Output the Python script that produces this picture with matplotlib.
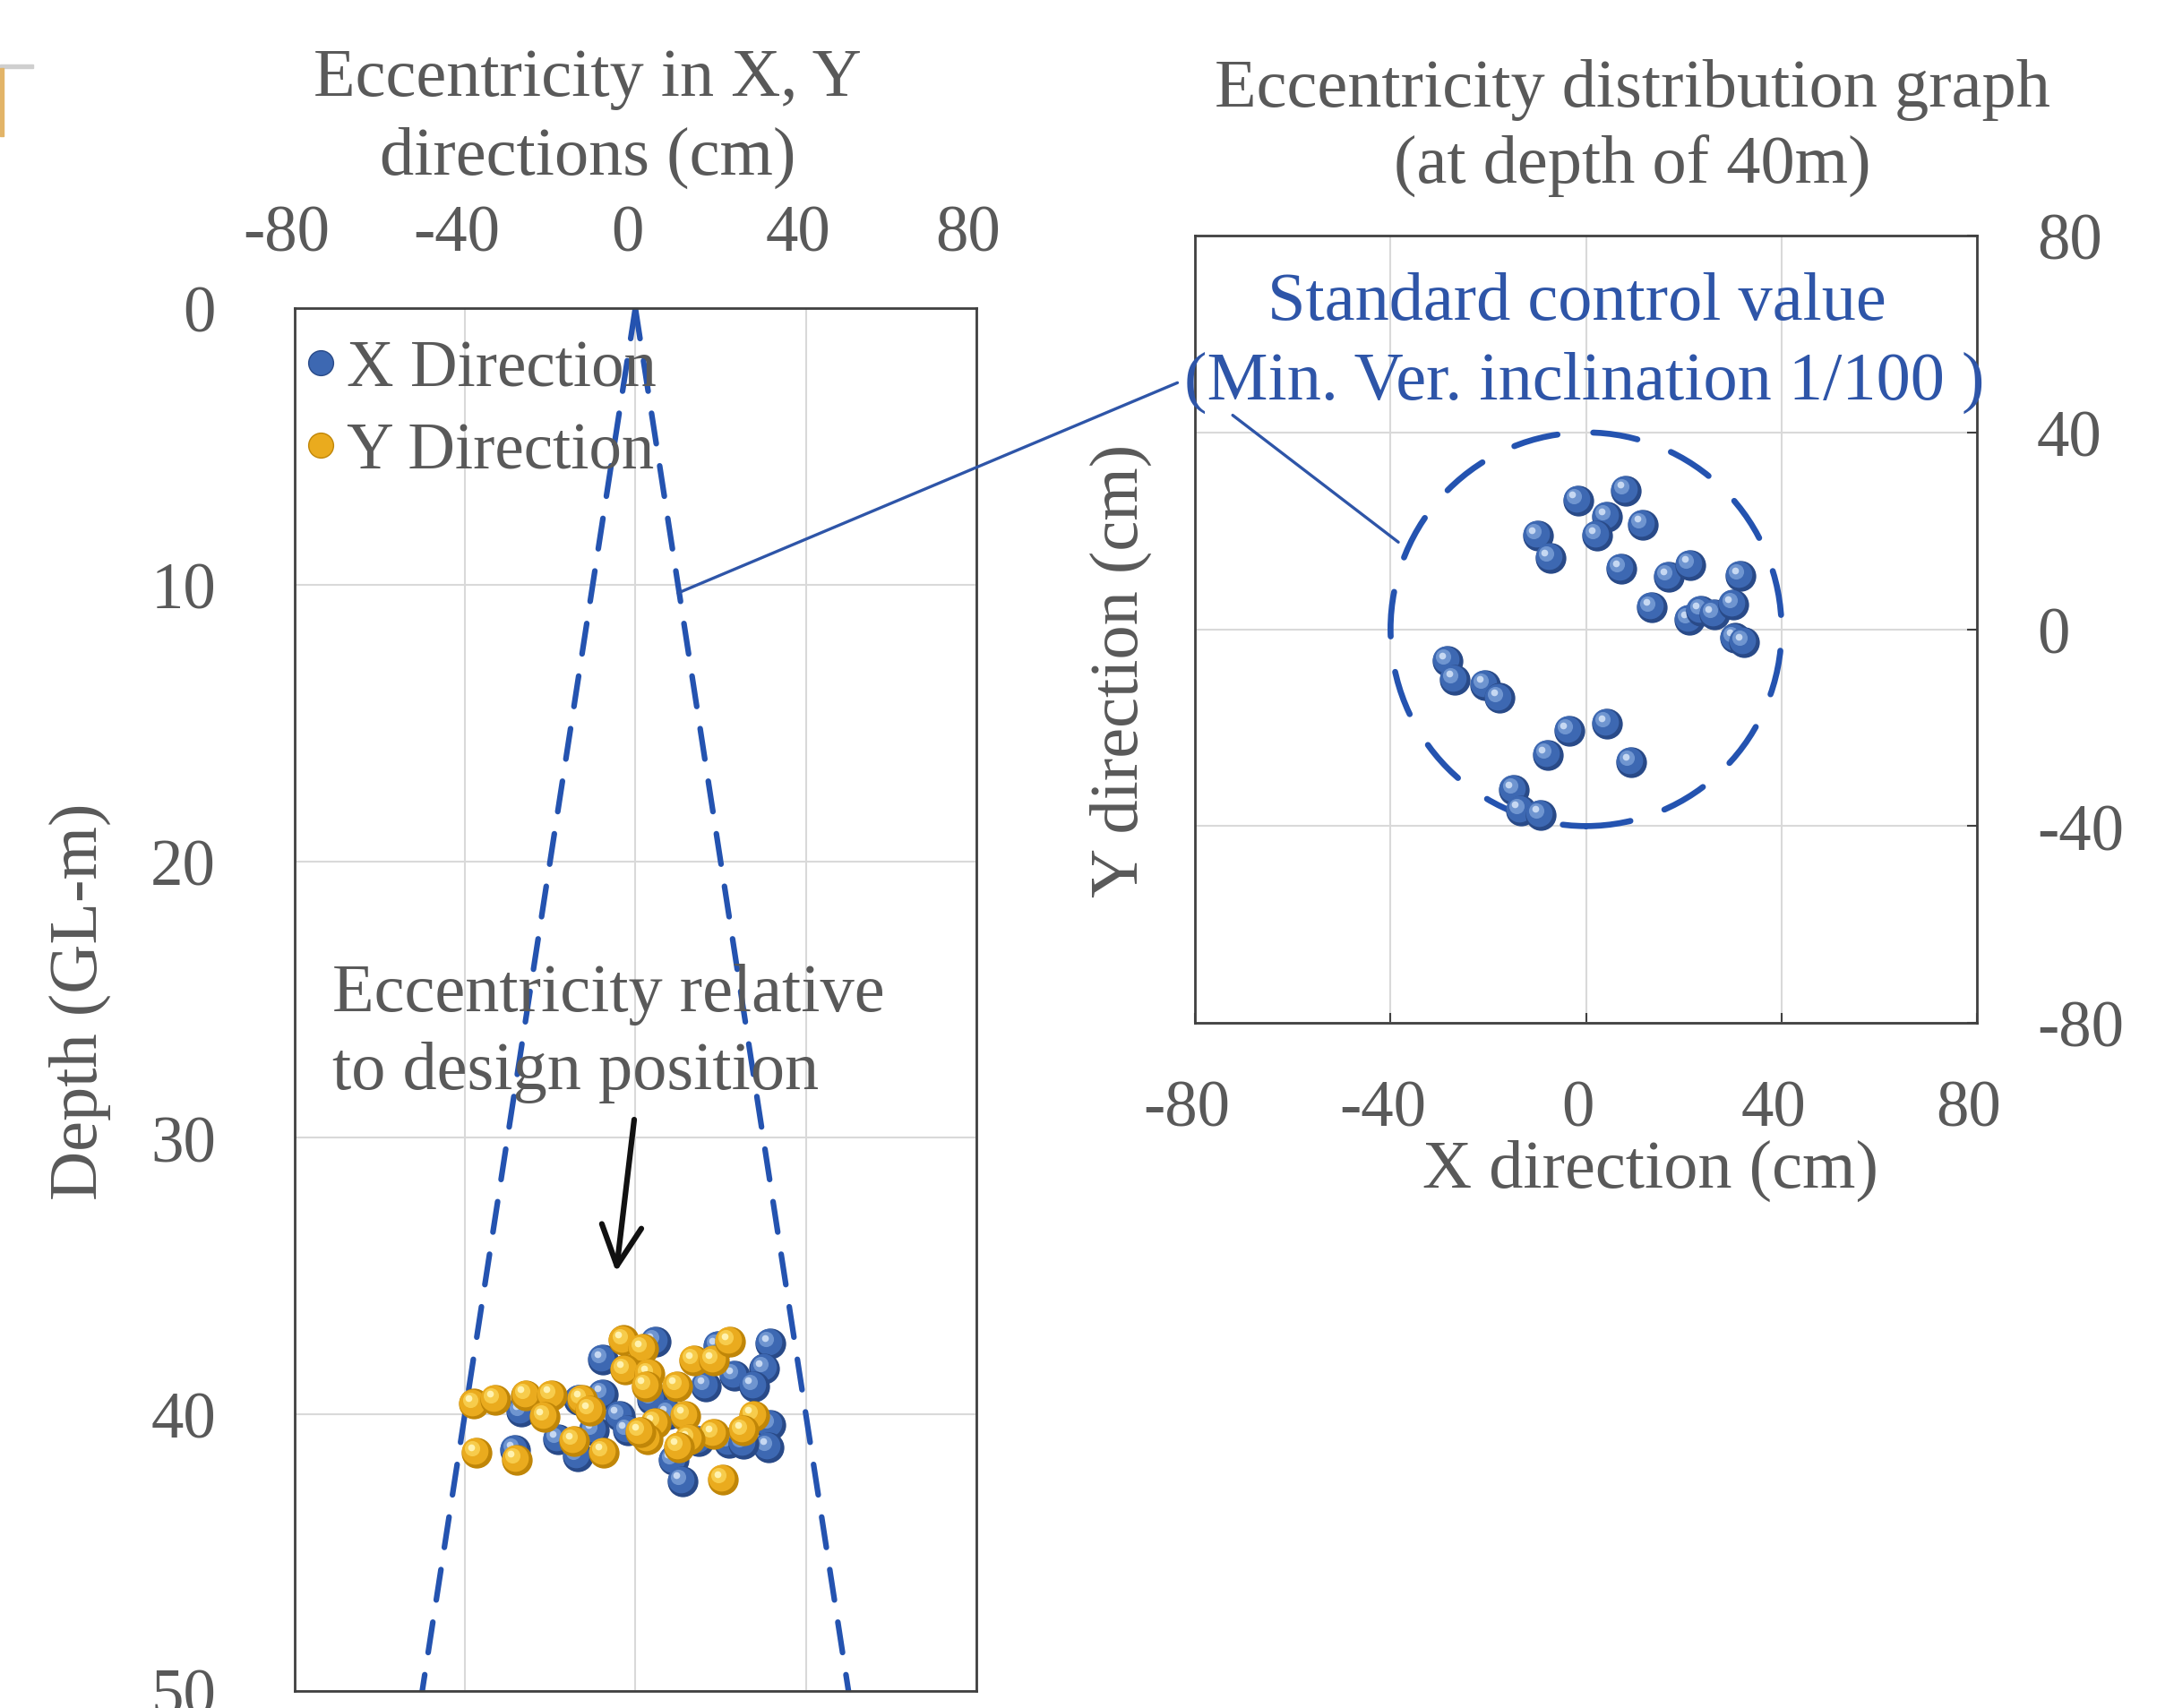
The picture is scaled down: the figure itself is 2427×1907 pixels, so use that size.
import matplotlib
matplotlib.use('Agg')
import matplotlib.pyplot as plt
import numpy as np
from matplotlib.transforms import offset_copy, ScaledTranslation
from matplotlib.patches import ConnectionPatch, Circle, Rectangle
from matplotlib.lines import Line2D

plt.rcParams['font.family'] = ['Liberation Serif', 'DejaVu Serif']
plt.rcParams['axes.unicode_minus'] = False

# --- data ---
# left panel: eccentricity (cm) vs depth (m)
x_dir_ecc = [-7.6, -7.6, -13.2, -26.8, -3.7, -1.8, -18.1, -9.7, -13.5, -28.2,
             4.7, 31.7, 30.3, 23.3, 27.8, 16.6, 4.0, 19.4, 7.8, 31.7,
             31.3, 21.9, 14.9, 8.9, 11.0, 25.4]
x_dir_depth = [38.02, 39.27, 39.46, 39.91, 40.05, 40.59, 40.91, 40.59, 41.50, 41.29,
               37.37, 37.43, 38.34, 38.61, 38.98, 38.98, 39.46, 37.53, 40.0, 40.38,
               41.18, 41.02, 40.96, 41.66, 42.41, 41.07]
y_dir_ecc = [-37.8, -32.8, -25.6, -19.6, -21.2, -12.5, -10.5, -37.3, -27.9, -14.4,
             -7.4, -2.7, 1.9, -2.3, 3.3, 2.6, 9.9, 13.8, 18.4, 22.2,
             11.7, 4.7, 27.8, 25.4, 18.4, 12.8, 2.9, 1.2, 10.3, 20.5]
y_dir_depth = [39.62, 39.46, 39.30, 39.30, 40.09, 39.46, 39.87, 41.39, 41.63, 40.96,
               41.37, 37.32, 37.64, 38.39, 38.55, 38.98, 38.98, 38.05, 38.05, 37.37,
               40.05, 40.32, 40.05, 40.59, 40.70, 40.91, 40.91, 40.64, 41.18, 42.36]

# right panel: distribution at 40 m depth (cm)
dist_x = [-1.65, 8.2, 4.35, 2.3, 11.6, -9.9, -7.35, 7.2, 16.9, 21.3,
          31.6, 13.5, 21.2, 23.6, 26.2, 30.2, 30.5, 32.3, -28.3, -26.9,
          -20.6, -17.7, 4.35, -3.5, -7.9, 9.2, -14.7, -13.4, -9.3]
dist_y = [26.2, 28.2, 22.9, 19.0, 21.3, 19.0, 14.5, 12.3, 10.7, 13.1,
          10.8, 4.4, 1.9, 3.7, 3.0, 5.0, -1.8, -2.6, -6.5, -10.2,
          -11.3, -14.0, -19.2, -20.7, -25.6, -27.0, -32.7, -36.8, -37.7]

ecc_ticks = [-80, -40, 0, 40, 80]
depth_ticks = [0, 10, 20, 30, 40, 50]
inclination = 1 / 100          # standard control value
ref_depth = 40                 # m, depth of the distribution graph
cone_depth = np.array([0, 50])

GREY = '#595959'
BLUE_TXT = '#2e55a8'
DASH_BLUE = '#2453b0'
BLUE = ('#294a88', '#3d68b2', '#6f95d0', '#c6d8f2')
GOLD = ('#c08608', '#eaab1e', '#f7cc4c', '#fff2b0')
FS = 52.5
TFS = 55


def balls(ax, xs, ys, cols, s=610, z0=3.0):
    fig = ax.figure
    t1 = offset_copy(ax.transData, fig=fig, x=-1.4, y=1.4, units='points')
    t2 = offset_copy(ax.transData, fig=fig, x=-3.5, y=3.5, units='points')
    t3 = offset_copy(ax.transData, fig=fig, x=-4.5, y=4.5, units='points')
    for i, (x, y) in enumerate(zip(xs, ys)):
        z = z0 + i * 0.01
        ax.scatter(x, y, s=s, color=cols[0], lw=0, zorder=z)
        ax.scatter(x, y, s=s * 0.75, color=cols[1], lw=0, zorder=z + 0.001, transform=t1)
        ax.scatter(x, y, s=s * 0.25, color=cols[2], lw=0, zorder=z + 0.002, transform=t2)
        ax.scatter(x, y, s=s * 0.05, color=cols[3], lw=0, zorder=z + 0.003, transform=t3)


fig = plt.figure(figsize=(24.27, 19.08), dpi=100)

# ---------------- left panel ----------------
ax1 = fig.add_axes([0.1354, 0.00996, 0.3137, 0.8092])
ax1.set_xlim(-80, 80)
ax1.set_ylim(50, 0)
ax1.xaxis.tick_top()
ax1.set_xticks(ecc_ticks)
ax1.set_yticks(depth_ticks)
ax1.tick_params(axis='x', length=0, pad=35, labelsize=FS, labelcolor=GREY)
ax1.tick_params(axis='y', length=0, pad=63, labelsize=FS, labelcolor=GREY)
ax1.grid(True, color='#d9d9d9', lw=1.5)
ax1.set_axisbelow(True)
for sp in ax1.spines.values():
    sp.set_color('#404040')
    sp.set_linewidth(2)

# 1/100 cone
for sgn in (-1, 1):
    ax1.plot(sgn * cone_depth * inclination * 100, cone_depth, color=DASH_BLUE,
             lw=4.5, dashes=(5.5, 4), dash_capstyle='round', zorder=2)

balls(ax1, x_dir_ecc, x_dir_depth, BLUE, z0=3)
balls(ax1, y_dir_ecc, y_dir_depth, GOLD, z0=5)

handles = [Line2D([], [], ls='', marker='o', ms=20, mfc=BLUE[1], mec=BLUE[0]),
           Line2D([], [], ls='', marker='o', ms=20, mfc=GOLD[1], mec=GOLD[0])]
ax1.legend(handles, ['X Direction', 'Y Direction'], loc='upper left',
           bbox_to_anchor=(-0.014, 0.989), frameon=False, fontsize=FS, labelcolor=GREY,
           handlelength=0.6, handletextpad=0.1, borderpad=0.25, borderaxespad=0,
           labelspacing=0.33)

ax1.text(-71, 25.4, 'Eccentricity relative', ha='left', va='baseline',
         fontsize=TFS, color=GREY, zorder=6)
ax1.text(-71, 28.2, 'to design position', ha='left', va='baseline',
         fontsize=TFS, color=GREY, zorder=6)
ax1.annotate('', xy=(-4.5, 34.85), xytext=(-0.27, 29.34),
             arrowprops=dict(arrowstyle='->,head_length=1.6,head_width=0.8', lw=4.5,
                             color='#111111', mutation_scale=20, shrinkA=0, shrinkB=0))

fig.text(0.2702, 1 - 107 / 1908, 'Eccentricity in X, Y', ha='center', va='baseline',
         fontsize=TFS, color=GREY)
fig.text(0.2702, 1 - 194.6 / 1908, 'directions (cm)', ha='center', va='baseline',
         fontsize=TFS, color=GREY)
fig.text(0.0367, 0.414, 'Depth (GL-m)', rotation=90, ha='center', va='center',
         fontsize=TFS, color=GREY)

# ---------------- right panel ----------------
ax2 = fig.add_axes([0.5497, 0.4009, 0.3597, 0.4607])
ax2.set_xlim(-80, 80)
ax2.set_ylim(-80, 80)
ax2.yaxis.tick_right()
ax2.set_xticks(ecc_ticks)
ax2.set_yticks(ecc_ticks)
ax2.tick_params(axis='both', direction='in', length=8, width=1.5, color='#404040',
                labelsize=FS, labelcolor=GREY)
ax2.tick_params(axis='x', pad=45)
ax2.tick_params(axis='y', pad=48)
ax2.grid(True, color='#d9d9d9', lw=1.5)
ax2.set_axisbelow(True)
for sp in ax2.spines.values():
    sp.set_color('#404040')
    sp.set_linewidth(2)

limit_r = ref_depth * 100 * inclination
ax2.add_patch(Circle((0, 0), limit_r, fill=False, ec=DASH_BLUE, lw=4.8,
                     ls=(0, (7.5, 6)), capstyle='round', zorder=2))
balls(ax2, dist_x, dist_y, BLUE, z0=3)

ax2.text(-1.8, 63.1, 'Standard control value', ha='center', va='baseline',
         fontsize=TFS, color=BLUE_TXT)
ax2.text(-0.3, 47.0, '(Min. Ver. inclination 1/100 )', ha='center', va='baseline',
         fontsize=TFS, color=BLUE_TXT)
ax2.annotate('', xy=(-38.4, 17.7), xytext=(-72.3, 43.5),
             arrowprops=dict(arrowstyle='-', lw=2.4, color=BLUE_TXT, shrinkA=0, shrinkB=0))
con = ConnectionPatch(xyA=(10, 10.3), coordsA=ax1.transData,
                      xyB=(-83.6, 50.1), coordsB=ax2.transData,
                      color=BLUE_TXT, lw=2.4, zorder=10)
fig.add_artist(con)

fig.text(0.7507, 1 - 118.6 / 1908, 'Eccentricity distribution graph', ha='center',
         va='baseline', fontsize=TFS, color=GREY)
fig.text(0.7507, 1 - 205 / 1908, '(at depth of 40m)', ha='center', va='baseline',
         fontsize=TFS, color=GREY)
fig.text(0.5155, 0.6074, 'Y direction (cm)', rotation=90, ha='center', va='center',
         fontsize=TFS, color=GREY)
fig.text(0.759, 0.3146, 'X direction (cm)', ha='center', va='center',
         fontsize=TFS, color=GREY)

# tick labels sit slightly left of their gridlines in the original
shift = ScaledTranslation(-0.09, 0, fig.dpi_scale_trans)
for ax in (ax1, ax2):
    for lab in ax.get_xticklabels():
        lab.set_transform(lab.get_transform() + shift)

# cropped remnant in the top-left corner
fig.add_artist(Rectangle((0, 1 - 77 / 1908), 37 / 2427, 4 / 1908, color='#cfcfcf',
                         transform=fig.transFigure))
fig.add_artist(Rectangle((0, 1 - 153 / 1908), 4 / 2427, 76 / 1908, color='#e2b468',
                         transform=fig.transFigure))

fig.savefig('out.png', dpi=100)
